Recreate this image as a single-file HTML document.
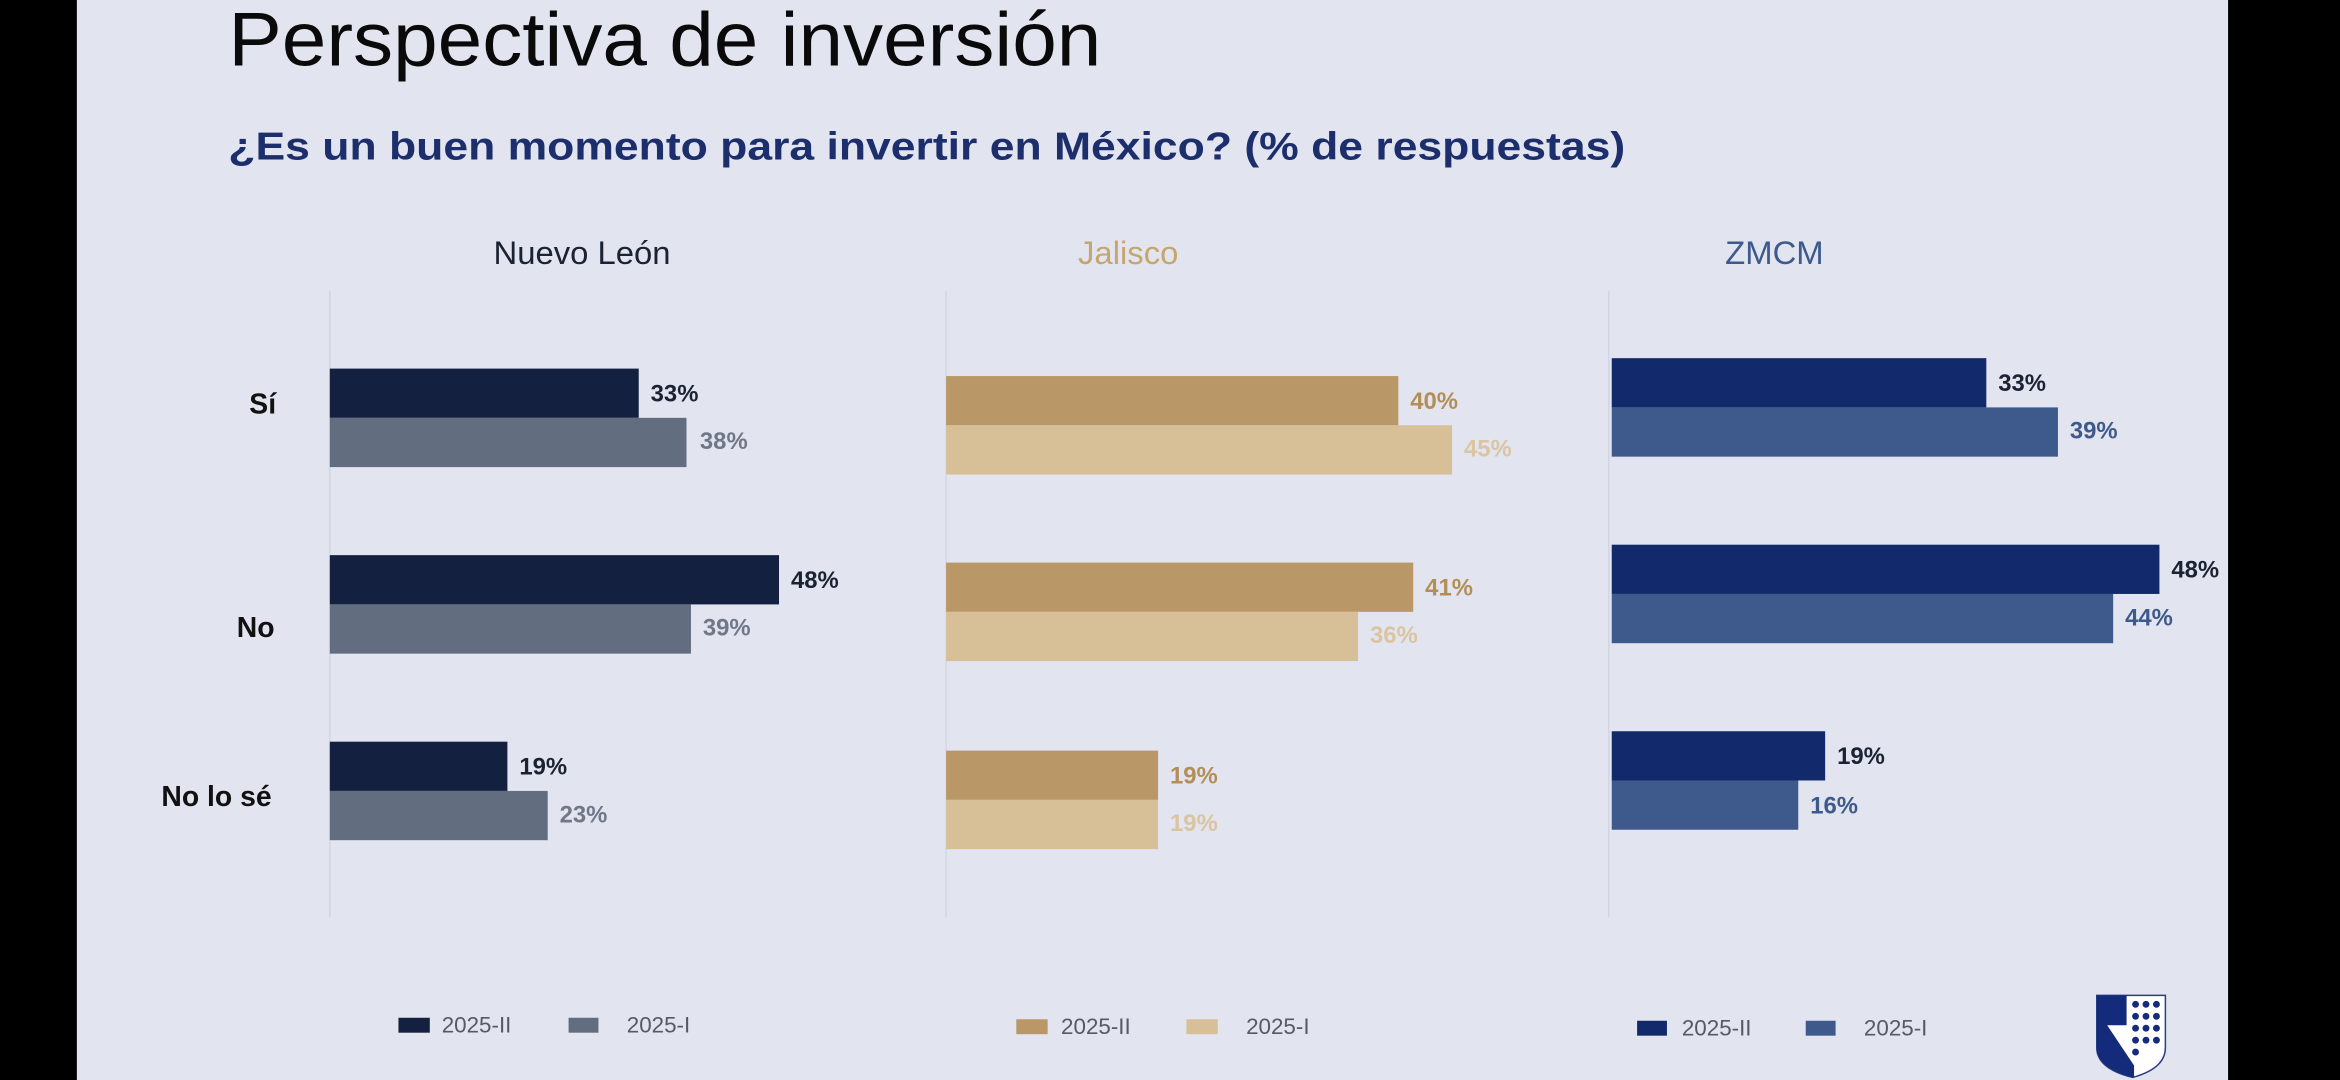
<!DOCTYPE html>
<html><head><meta charset="utf-8"><style>
html,body{margin:0;padding:0;background:#000;}
svg{display:block}
text{font-family:"Liberation Sans",Arial,sans-serif}
</style></head><body>
<svg width="2340" height="1080" viewBox="0 0 1568 723.7" preserveAspectRatio="none" xmlns="http://www.w3.org/2000/svg">
<rect x="0" y="0" width="1568" height="724" fill="#000"/>
<rect x="51.5" y="0" width="1441.5" height="724" fill="#e2e4ef"/>

<text x="153" y="44" font-size="51" fill="#0a0a0a" textLength="585" lengthAdjust="spacingAndGlyphs">Perspectiva de inversión</text>
<text x="153" y="107" font-size="26" font-weight="bold" fill="#1c2f6c" textLength="936" lengthAdjust="spacingAndGlyphs">¿Es un buen momento para invertir en México? (% de respuestas)</text>

<text x="390" y="177" font-size="22" fill="#1a2233" text-anchor="middle">Nuevo León</text>
<text x="756" y="177" font-size="22" fill="#c6a66e" text-anchor="middle">Jalisco</text>
<text x="1189" y="177" font-size="22" fill="#3d5a8e" text-anchor="middle">ZMCM</text>

<g stroke="#d3d6e2" stroke-width="1">
<line x1="221" y1="195" x2="221" y2="615"/>
<line x1="634" y1="195" x2="634" y2="615"/>
<line x1="1078" y1="195" x2="1078" y2="615"/>
</g>

<g font-size="19" font-weight="bold" fill="#111" text-anchor="end">
<text x="185" y="277">Sí</text>
<text x="184" y="427">No</text>
<text x="182" y="540">No lo sé</text>
</g>

<!-- Nuevo León -->
<g>
<rect x="221" y="247" width="207" height="33" fill="#132040"/>
<rect x="221" y="280" width="239" height="33" fill="#626d80"/>
<rect x="221" y="372" width="301" height="33" fill="#132040"/>
<rect x="221" y="405" width="242" height="33" fill="#626d80"/>
<rect x="221" y="497" width="119" height="33" fill="#132040"/>
<rect x="221" y="530" width="146" height="33" fill="#626d80"/>
</g>
<g font-size="16" font-weight="bold">
<text x="436" y="269" fill="#1a2233">33%</text>
<text x="469" y="301" fill="#707888">38%</text>
<text x="530" y="394" fill="#1a2233">48%</text>
<text x="471" y="426" fill="#707888">39%</text>
<text x="348" y="519" fill="#1a2233">19%</text>
<text x="375" y="551" fill="#707888">23%</text>
</g>

<!-- Jalisco -->
<g>
<rect x="634" y="252" width="303" height="33" fill="#b99766"/>
<rect x="634" y="285" width="339" height="33" fill="#d7bf98"/>
<rect x="634" y="377" width="313" height="33" fill="#b99766"/>
<rect x="634" y="410" width="276" height="33" fill="#d7bf98"/>
<rect x="634" y="503" width="142" height="33" fill="#b99766"/>
<rect x="634" y="536" width="142" height="33" fill="#d7bf98"/>
</g>
<g font-size="16" font-weight="bold">
<text x="945" y="274" fill="#b38f57">40%</text>
<text x="981" y="306" fill="#dac5a0">45%</text>
<text x="955" y="399" fill="#b38f57">41%</text>
<text x="918" y="431" fill="#dac5a0">36%</text>
<text x="784" y="525" fill="#b38f57">19%</text>
<text x="784" y="557" fill="#dac5a0">19%</text>
</g>

<!-- ZMCM -->
<g>
<rect x="1080" y="240" width="251" height="33" fill="#122a6c"/>
<rect x="1080" y="273" width="299" height="33" fill="#3e5a8c"/>
<rect x="1080" y="365" width="367" height="33" fill="#122a6c"/>
<rect x="1080" y="398" width="336" height="33" fill="#3e5a8c"/>
<rect x="1080" y="490" width="143" height="33" fill="#122a6c"/>
<rect x="1080" y="523" width="125" height="33" fill="#3e5a8c"/>
</g>
<g font-size="16" font-weight="bold">
<text x="1339" y="262" fill="#1a2233">33%</text>
<text x="1387" y="294" fill="#3e5a8c">39%</text>
<text x="1455" y="387" fill="#1a2233">48%</text>
<text x="1424" y="419" fill="#3e5a8c">44%</text>
<text x="1231" y="512" fill="#1a2233">19%</text>
<text x="1213" y="545" fill="#3e5a8c">16%</text>
</g>

<!-- Legends -->
<g font-size="15" fill="#555a66">
<rect x="267" y="682" width="21" height="10" fill="#132040"/>
<text x="296" y="692">2025-II</text>
<rect x="381" y="682" width="20" height="10" fill="#626d80"/>
<text x="420" y="692">2025-I</text>

<rect x="681" y="683" width="21" height="10" fill="#b99766"/>
<text x="711" y="693">2025-II</text>
<rect x="795" y="683" width="21" height="10" fill="#d7bf98"/>
<text x="835" y="693">2025-I</text>

<rect x="1097" y="684" width="20" height="10" fill="#122a6c"/>
<text x="1127" y="694">2025-II</text>
<rect x="1210" y="684" width="20" height="10" fill="#3e5a8c"/>
<text x="1249" y="694">2025-I</text>
</g>

<!-- Logo -->
<g>
<path d="M1405 667 L1451 667 L1451 702 Q1451 716 1429 722 Q1405 716 1405 702 Z" fill="#fff" stroke="#2a3f80" stroke-width="1"/>
<path d="M1405 667 L1425 667 L1425 687 L1412 687 L1430 714 L1430 722 Q1405 716 1405 702 Z" fill="#142a7a"/>
<g fill="#142a7a">
<circle cx="1431" cy="673" r="2.3"/><circle cx="1438" cy="673" r="2.3"/><circle cx="1445" cy="673" r="2.3"/>
<circle cx="1431" cy="681" r="2.3"/><circle cx="1438" cy="681" r="2.3"/><circle cx="1445" cy="681" r="2.3"/>
<circle cx="1431" cy="689" r="2.3"/><circle cx="1438" cy="689" r="2.3"/><circle cx="1445" cy="689" r="2.3"/>
<circle cx="1431" cy="697" r="2.3"/><circle cx="1438" cy="697" r="2.3"/><circle cx="1445" cy="697" r="2.3"/>
<circle cx="1431" cy="705" r="2.3"/>
</g>
</g>
</svg>
</body></html>
